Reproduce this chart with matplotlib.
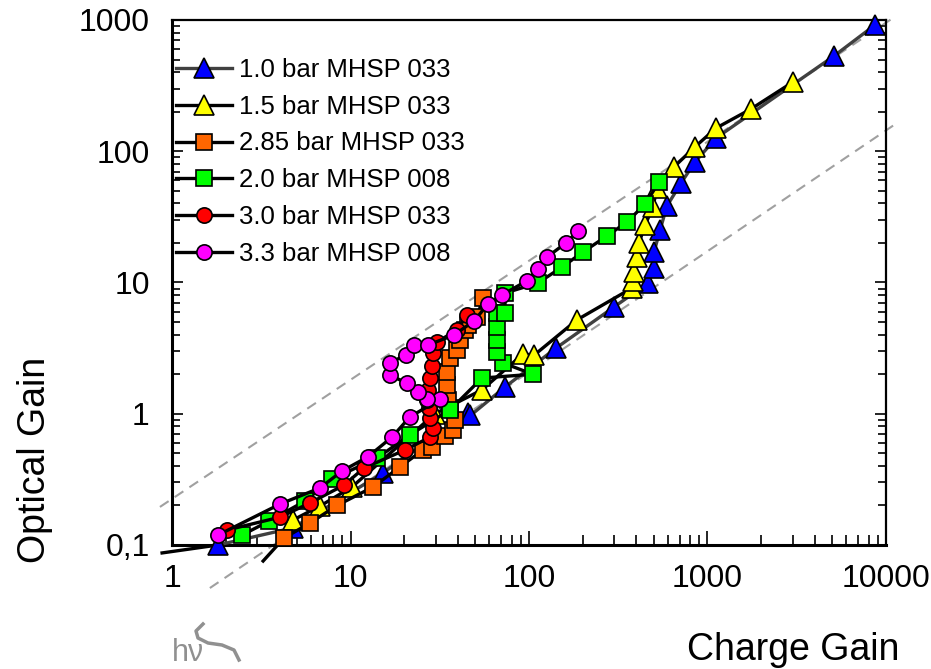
import numpy as np
import matplotlib
matplotlib.use("Agg")
import matplotlib.pyplot as plt
from matplotlib.ticker import NullFormatter, LogLocator

plt.rcParams['font.family'] = ['Liberation Sans', 'DejaVu Sans']

# Series (charge gain, optical gain)
blue_x = [1.81, 4.76, 15.2, 45.5, 47, 73.4, 142, 299, 464, 502, 502, 542, 593, 711, 851, 1116, 5115, 8675]
blue_y = [0.10, 0.135, 0.354, 1.01, 0.97, 1.6, 3.17, 6.5, 9.9, 12.9, 17.1, 25.1, 38.3, 57.3, 82.8, 126, 532, 916]

yellow_x = [4.76, 6.75, 10.2, 29.7, 54.5, 92.5, 107, 186, 378, 383, 388, 403, 413, 447, 495, 521, 649, 851,
            1116, 1754, 3013]
yellow_y = [0.155, 0.198, 0.277, 1.0, 1.52, 2.85, 2.8, 5.2, 9.08, 10.3, 12.0, 15.6, 20.0, 27.4, 37.6, 52.5, 75.9,
            108, 150, 210, 337]

orange_x = [4.24, 5.93, 8.4, 13.4, 18.9, 25.5, 28.6, 34.0, 37.5, 38.6, 36.0, 35.2, 34.6, 34.6, 36.0, 39.4, 41.0,
            44.0, 45.5, 51.1, 55.3]
orange_y = [0.113, 0.147, 0.2, 0.277, 0.393, 0.53, 0.56, 0.68, 0.75, 0.89, 1.1, 1.27, 1.66, 2.08, 2.66, 3.06, 3.65,
            4.35, 4.74, 5.46, 7.6]

green_x = [2.47, 3.49, 5.56, 7.88, 14.1, 21.5, 36.1, 54.5, 105, 71.5, 66.2, 66.2, 66.2, 66.2, 73.4, 73.4, 112, 153,
           201, 273, 354, 447, 535]
green_y = [0.119, 0.152, 0.216, 0.318, 0.46, 0.69, 1.07, 1.87, 2.0, 2.44, 2.95, 3.65, 4.58, 5.86, 5.86, 8.32, 9.9,
           13.1, 17.1, 22.6, 28.9, 39.6, 58.3]

red_x = [2.03, 4.03, 5.93, 9.2, 11.9, 20.2, 28.0, 29.0, 27.9, 27.5, 26.8, 27.2, 27.9, 28.6, 29.0, 30.5, 39.5, 45.0]
red_y = [0.13, 0.163, 0.209, 0.286, 0.386, 0.53, 0.665, 0.78, 0.93, 1.1, 1.27, 1.52, 1.87, 2.31, 2.90, 3.52, 4.35,
         5.65]

magenta_x = [1.81, 4.03, 6.75, 8.96, 12.5, 17.1, 21.5, 31.7, 26.8, 23.9, 20.7, 16.6, 16.6, 20.5, 22.7, 27.2, 38.0,
             49.2, 58.9, 70.6, 97.4, 112, 126, 161, 188]
magenta_y = [0.119, 0.205, 0.272, 0.366, 0.469, 0.665, 0.945, 1.29, 1.29, 1.47, 1.71, 1.97, 2.44, 2.81, 3.34, 3.34,
             3.98, 5.09, 6.86, 8.04, 10.3, 12.7, 15.6, 20.0, 24.7]

labels = ["1.0 bar MHSP 033", "1.5 bar MHSP 033", "2.85 bar MHSP 033",
          "2.0 bar MHSP 008", "3.0 bar MHSP 033", "3.3 bar MHSP 008"]

# line pieces that run out of the plot area at the lower left
lead_blue = ([0.88, 1.81], [0.087, 0.10])
lead_orange = ([3.24, 4.24], [0.0755, 0.113])

# grey dashed guide lines (end points)
guide_hi = ([0.856, 10940], [0.195, 1035])
guide_lo = ([1.63, 11090], [0.047, 158.5])

x_ticks = [1, 10, 100, 1000, 10000]
x_ticklabels = ["1", "10", "100", "1000", "10000"]
y_ticks = [0.1, 1, 10, 100, 1000]
y_ticklabels = ["0,1", "1", "10", "100", "1000"]

fig = plt.figure(figsize=(9.31, 6.69), dpi=100)
ax = fig.add_axes([172 / 931, 1 - 545 / 669, 714 / 931, 525 / 669])
ax.set_xscale("log")
ax.set_yscale("log")
ax.set_xlim(1, 10000)
ax.set_ylim(0.1, 1000)

for gx, gy in (guide_hi, guide_lo):
    ax.plot(gx, gy, color="#a0a0a0", lw=1.5, dashes=(5, 3.5), clip_on=False, zorder=1)

ax.plot(*lead_blue, color="black", lw=2.4, clip_on=False, zorder=2)
ax.plot(*lead_orange, color="black", lw=2.4, clip_on=False, zorder=2)

series = [
    (blue_x, blue_y, "^", "#0000ff", "#404040", 14),
    (yellow_x, yellow_y, "^", "#ffff00", "black", 14),
    (orange_x, orange_y, "s", "#ff6600", "black", 12),
    (green_x, green_y, "s", "#00ff00", "black", 12),
    (red_x, red_y, "o", "#ff0000", "black", 11),
    (magenta_x, magenta_y, "o", "#ff00ff", "black", 11),
]
for i, (sx, sy, m, fc, lc, ms) in enumerate(series):
    ax.plot(sx, sy, color=lc, lw=2.4, marker=m, markersize=ms, markerfacecolor=fc,
            markeredgecolor="black", markeredgewidth=1.2, label=labels[i],
            clip_on=False, zorder=3 + i)

ax.set_xticks(x_ticks, x_ticklabels)
ax.set_yticks(y_ticks, y_ticklabels)
ax.xaxis.set_minor_locator(LogLocator(base=10, subs=np.arange(2, 10), numticks=20))
ax.yaxis.set_minor_locator(LogLocator(base=10, subs=np.arange(2, 10), numticks=20))
ax.xaxis.set_minor_formatter(NullFormatter())
ax.yaxis.set_minor_formatter(NullFormatter())

ax.tick_params(axis="x", which="both", direction="in", top=False, labelsize=23, pad=14, width=1.2)
ax.tick_params(axis="x", which="major", length=10)
ax.tick_params(axis="x", which="minor", length=7)
ax.tick_params(axis="y", which="both", direction="in", left=True, right=True, labelsize=23, pad=16, width=1.2)
ax.tick_params(axis="y", which="major", length=8)
ax.tick_params(axis="y", which="minor", length=6)

for side in ["left", "bottom"]:
    ax.spines[side].set_linewidth(2.2)
for side in ["top", "right"]:
    ax.spines[side].set_linewidth(1.6)

leg = ax.legend(loc="upper left", bbox_to_anchor=(0.005, 0.928), frameon=False, fontsize=18.5,
                handlelength=2.2, handletextpad=0.25, labelspacing=0.5, borderpad=0, borderaxespad=0)

fig.text(793 / 931, 1 - 650 / 669, "Charge Gain", fontsize=27, ha="center", va="center")
fig.text(35 / 931, 1 - 460 / 669, "Optical Gain", fontsize=27, ha="center", va="center", rotation=90)

# faint h-nu logo at the bottom edge
fig.text(172 / 931, 1 - 661 / 669, "h\u03bd", fontsize=22, color="#909090", ha="left", va="baseline")
wave_x = np.array([203, 196, 198, 208, 222, 234, 239]) / 931
wave_y = 1 - np.array([624, 631, 638, 643, 645, 650, 660]) / 669
fig.add_artist(plt.Line2D(wave_x, wave_y, color="#909090", lw=2.5, transform=fig.transFigure))

fig.savefig("out.png", dpi=100)
